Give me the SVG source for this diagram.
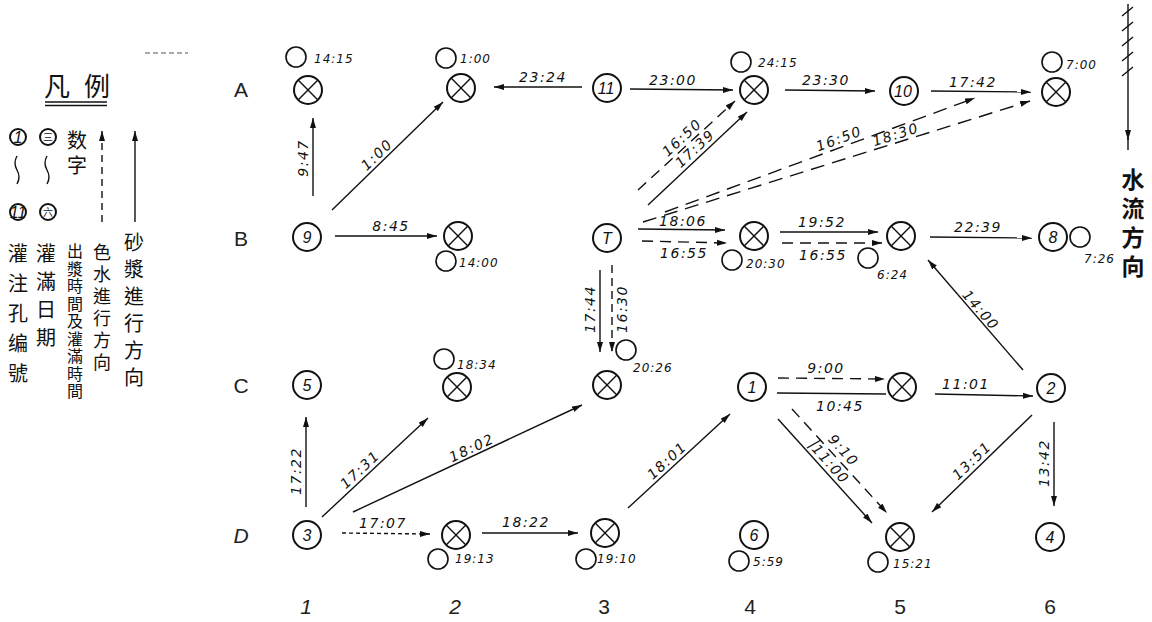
<svg xmlns="http://www.w3.org/2000/svg" width="1152" height="622" viewBox="0 0 1152 622">
<style>
.bg{fill:#fff}
.n{fill:none;stroke:#111;stroke-width:2}
.s{fill:none;stroke:#111;stroke-width:1.6}
.c{fill:none;stroke:#111;stroke-width:1.4}
.d{stroke-dasharray:11 7}
.dd{stroke-dasharray:4 3}
.lb{font-family:"DejaVu Sans",sans-serif;font-style:italic;font-size:14px;letter-spacing:1.5px;fill:#111;text-anchor:middle}
.tm{font-family:"DejaVu Sans",sans-serif;font-style:italic;font-size:12px;letter-spacing:1px;fill:#111}
.nt{font-family:"Liberation Sans",sans-serif;font-style:italic;font-size:16px;fill:#111;text-anchor:middle;dominant-baseline:central}
.rc{font-family:"Liberation Sans",sans-serif;font-size:21px;fill:#222;text-anchor:middle}
.cj{font-family:"Noto Sans CJK SC",sans-serif;fill:#111}
.v{font-family:"Noto Sans CJK TC","Noto Sans CJK SC",sans-serif;fill:#111;writing-mode:vertical-rl}
</style>
<defs>
<marker id="ah" markerUnits="userSpaceOnUse" markerWidth="11" markerHeight="7" refX="10" refY="3.5" orient="auto">
<path d="M0,0.5 L10,3.5 L0,6.5 z" fill="#111"/>
</marker>
<g id="xc"><circle r="14" class="n"/><path d="M-9.9,-9.9 L9.9,9.9 M9.9,-9.9 L-9.9,9.9" stroke="#111" stroke-width="1.4"/></g>
</defs>
<rect class="bg" x="0" y="0" width="1152" height="622"/>

<g id="legend">
<line x1="145" y1="53" x2="188" y2="53" stroke="#555" stroke-width="1" stroke-dasharray="5 3"/>
<text class="cj" x="44" y="96" font-size="26" letter-spacing="14">凡例</text>
<line x1="45" y1="102" x2="107" y2="102" stroke="#111" stroke-width="1.3"/>
<line x1="45" y1="105.5" x2="107" y2="105.5" stroke="#111" stroke-width="1.3"/>
<circle cx="18" cy="137" r="8" class="n"/><text class="nt" x="18" y="137" font-size="11" font-style="normal">1</text>
<circle cx="48" cy="137" r="8" class="n"/><text class="cj" x="48" y="141" font-size="10" text-anchor="middle">三</text>
<path d="M17,156 q-4,7 0,14 q4,7 0,14" class="c"/>
<path d="M47,156 q-4,7 0,14 q4,7 0,14" class="c"/>
<circle cx="18" cy="212" r="8" class="n"/><text class="nt" x="18" y="212" font-size="10" font-style="normal">11</text>
<circle cx="48" cy="212" r="8" class="n"/><text class="cj" x="48" y="216" font-size="10" text-anchor="middle">六</text>
<text class="v" x="77" y="130" font-size="20" letter-spacing="5">数字</text>
<line x1="102" y1="222" x2="102" y2="131" class="c d" marker-end="url(#ah)" style="stroke-dasharray:7 5"/>
<line x1="135" y1="222" x2="135" y2="131" class="c" marker-end="url(#ah)"/>
<text class="v" x="18" y="243" font-size="20" letter-spacing="10">灌注孔编號</text>
<text class="v" x="46" y="243" font-size="20" letter-spacing="8">灌滿日期</text>
<text class="v" x="75" y="243" font-size="16" letter-spacing="1.5">出漿時間及灌滿時間</text>
<text class="v" x="102" y="243" font-size="18" letter-spacing="4">色水進行方向</text>
<text class="v" x="134" y="232" font-size="20" letter-spacing="7">砂漿進行方向</text>
</g>

<g id="flow">
<line x1="1128" y1="4" x2="1128" y2="140" class="c" stroke-width="2" marker-end="url(#ah)"/>
<line x1="1128" y1="138" x2="1128" y2="150" class="c" stroke-width="2"/>
<path d="M1122,16 L1133,7 M1122,31 L1133,22 M1122,46 L1133,37 M1122,61 L1133,52 M1122,76 L1133,67" class="c" stroke-width="1.8"/>
<text class="v" x="1133" y="168" font-size="23" font-weight="bold" letter-spacing="6">水流方向</text>
</g>

<g id="axes">
<text class="rc" x="241" y="97">A</text>
<text class="rc" x="241" y="246">B</text>
<text class="rc" x="241" y="393">C</text>
<text class="rc" x="241" y="543" font-style="italic">D</text>
<text class="rc" x="306" y="614" font-style="italic">1</text>
<text class="rc" x="455" y="614" font-style="italic">2</text>
<text class="rc" x="604" y="614">3</text>
<text class="rc" x="750" y="614">4</text>
<text class="rc" x="900" y="614">5</text>
<text class="rc" x="1050" y="614">6</text>
</g>

<g id="connectors">
<line x1="313" y1="196" x2="313" y2="118" class="c" marker-end="url(#ah)"/>
<text class="lb" transform="translate(313,158) rotate(-90)" y="-5">9:47</text>
<line x1="332" y1="210" x2="443" y2="102" class="c" marker-end="url(#ah)"/>
<text class="lb" transform="translate(383,161) rotate(-44)" y="-4">1:00</text>
<line x1="335" y1="236" x2="437" y2="236" class="c" marker-end="url(#ah)"/>
<text class="lb" x="391" y="231" font-size="15">8:45</text>
<line x1="582" y1="87" x2="494" y2="87" class="c" marker-end="url(#ah)"/>
<text class="lb" x="543" y="82" font-size="15">23:24</text>
<line x1="630" y1="89" x2="733" y2="90" class="c" marker-end="url(#ah)"/>
<text class="lb" x="673" y="85" font-size="15">23:00</text>
<line x1="785" y1="90" x2="875" y2="91" class="c" marker-end="url(#ah)"/>
<text class="lb" x="826" y="85" font-size="15">23:30</text>
<line x1="931" y1="91" x2="1031" y2="92" class="c" marker-end="url(#ah)"/>
<text class="lb" x="973" y="87">17:42</text>

<line x1="638" y1="190" x2="735" y2="101" class="c d" marker-end="url(#ah)"/>
<text class="lb" transform="translate(688,144) rotate(-42.5)" y="-4">16:50</text>
<line x1="648" y1="205" x2="747" y2="112" class="c" marker-end="url(#ah)"/>
<text class="lb" transform="translate(701,155) rotate(-43)" y="-4">17:39</text>

<line x1="665" y1="212" x2="975" y2="98" class="c d" style="stroke-dasharray:14 8" marker-end="url(#ah)"/>
<text class="lb" transform="translate(842,147) rotate(-20.2)" y="-4">16:50</text>
<line x1="643" y1="222" x2="1030" y2="101" class="c d" style="stroke-dasharray:14 8" marker-end="url(#ah)"/>
<text class="lb" transform="translate(898,142) rotate(-17.4)" y="-3">18:30</text>

<line x1="638" y1="229" x2="725" y2="230" class="c" marker-end="url(#ah)"/>
<text class="lb" x="683" y="226">18:06</text>
<line x1="642" y1="241" x2="727" y2="243" class="c d" marker-end="url(#ah)"/>
<text class="lb" x="684" y="258">16:55</text>
<line x1="780" y1="232" x2="878" y2="232" class="c" marker-end="url(#ah)"/>
<text class="lb" x="822" y="227">19:52</text>
<line x1="782" y1="243" x2="882" y2="243" class="c d" marker-end="url(#ah)"/>
<text class="lb" x="823" y="260" font-size="15">16:55</text>
<line x1="930" y1="237" x2="1032" y2="238" class="c" marker-end="url(#ah)"/>
<text class="lb" x="978" y="232" font-size="15">22:39</text>

<line x1="600" y1="270" x2="600" y2="352" class="c" marker-end="url(#ah)"/>
<text class="lb" transform="translate(600,309) rotate(-90)" y="-5" font-size="15">17:44</text>
<line x1="612" y1="265" x2="612" y2="352" class="c d" style="stroke-dasharray:8 5" marker-end="url(#ah)"/>
<text class="lb" transform="translate(612,309) rotate(-90)" y="15">16:30</text>

<line x1="778" y1="378" x2="885" y2="379" class="c d" marker-end="url(#ah)"/>
<text class="lb" x="826" y="373" font-size="15">9:00</text>
<line x1="777" y1="393" x2="886" y2="394" class="c"/>
<text class="lb" x="840" y="411" font-size="15">10:45</text>
<line x1="935" y1="394" x2="1033" y2="396" class="c" marker-end="url(#ah)"/>
<text class="lb" x="966" y="389">11:01</text>

<line x1="1023" y1="370" x2="928" y2="260" class="c" marker-end="url(#ah)"/>
<text class="lb" transform="translate(974,316) rotate(49.2)" y="-4" font-size="15">14:00</text>
<line x1="1032" y1="415" x2="932" y2="512" class="c" marker-end="url(#ah)"/>
<text class="lb" transform="translate(978,467) rotate(-44)" y="-4">13:51</text>
<line x1="1054" y1="422" x2="1054" y2="506" class="c" marker-end="url(#ah)"/>
<text class="lb" transform="translate(1054,463) rotate(-90)" y="-5">13:42</text>

<line x1="778" y1="419" x2="872" y2="523" class="c" marker-end="url(#ah)"/>
<text class="lb" transform="translate(824,470) rotate(47.9)" y="-4" font-size="12.5">11:00</text>
<line x1="792" y1="409" x2="887" y2="513" class="c d" marker-end="url(#ah)"/>
<text class="lb" transform="translate(836,457) rotate(47.9)" y="-5">9:10</text>
<line x1="807" y1="448" x2="821" y2="440" class="c"/>

<line x1="628" y1="508" x2="730" y2="414" class="c" marker-end="url(#ah)"/>
<text class="lb" transform="translate(673,467) rotate(-42.7)" y="-4">18:01</text>

<line x1="306" y1="507" x2="306" y2="417" class="c" marker-end="url(#ah)"/>
<text class="lb" transform="translate(306,471) rotate(-90)" y="-5">17:22</text>
<line x1="322" y1="517" x2="428" y2="418" class="c" marker-end="url(#ah)"/>
<text class="lb" transform="translate(366,476) rotate(-43)" y="-4" font-size="15">17:31</text>
<line x1="353" y1="512" x2="582" y2="405" class="c" marker-end="url(#ah)"/>
<text class="lb" transform="translate(475,455) rotate(-25)" y="-3">18:02</text>
<line x1="342" y1="533" x2="430" y2="534" class="c dd" marker-end="url(#ah)"/>
<text class="lb" x="383" y="528" font-size="13">17:07</text>
<line x1="482" y1="533" x2="578" y2="533" class="c" marker-end="url(#ah)"/>
<text class="lb" x="526" y="527">18:22</text>
</g>

<g id="A1"><use href="#xc" x="308" y="90"/><circle cx="296" cy="57" r="10" class="s"/><text class="tm" x="314" y="63">14:15</text></g>
<g id="A2"><use href="#xc" x="461" y="88"/><circle cx="446" cy="58" r="10" class="s"/><text class="tm" x="460" y="63">1:00</text></g>
<g id="A3"><circle cx="607" cy="88" r="14" class="n"/><text class="nt" x="606" y="88">11</text></g>
<g id="A4"><use href="#xc" x="754" y="90"/><circle cx="741" cy="62" r="10" class="s"/><text class="tm" x="758" y="67">24:15</text></g>
<g id="A5"><circle cx="904" cy="91" r="14" class="n"/><text class="nt" x="903" y="91">10</text></g>
<g id="A6"><use href="#xc" x="1056" y="92"/><circle cx="1052" cy="62" r="10" class="s"/><text class="tm" x="1066" y="69">7:00</text></g>

<g id="B1"><circle cx="307" cy="237" r="14" class="n"/><text class="nt" x="307" y="237">9</text></g>
<g id="B2"><use href="#xc" x="458" y="236"/><circle cx="446" cy="261" r="10" class="s"/><text class="tm" x="459" y="267">14:00</text></g>
<g id="B3"><circle cx="607" cy="238" r="14" class="n"/><text class="nt" x="607" y="238" font-style="normal">T</text></g>
<g id="B4"><use href="#xc" x="754" y="236"/><circle cx="732" cy="260" r="10" class="s"/><text class="tm" x="746" y="268">20:30</text></g>
<g id="B5"><use href="#xc" x="901" y="236"/><circle cx="868" cy="258" r="10" class="s"/><text class="tm" x="877" y="279">6:24</text></g>
<g id="B6"><circle cx="1053" cy="237" r="14" class="n"/><text class="nt" x="1053" y="237" font-style="normal">8</text><circle cx="1080" cy="237" r="10" class="s"/><text class="tm" x="1084" y="263">7:26</text></g>

<g id="C1"><circle cx="307" cy="385" r="14" class="n"/><text class="nt" x="307" y="385" font-style="normal">5</text></g>
<g id="C2"><use href="#xc" x="457" y="387"/><circle cx="444" cy="359" r="10" class="s"/><text class="tm" x="457" y="369">18:34</text></g>
<g id="C3"><use href="#xc" x="607" y="385"/><circle cx="626" cy="350" r="10" class="s"/><text class="tm" x="633" y="372">20:26</text></g>
<g id="C4"><circle cx="752" cy="387" r="14" class="n"/><text class="nt" x="752" y="387">1</text></g>
<g id="C5"><use href="#xc" x="902" y="387"/></g>
<g id="C6"><circle cx="1051" cy="388" r="14" class="n"/><text class="nt" x="1051" y="388">2</text></g>

<g id="D1"><circle cx="307" cy="535" r="14" class="n"/><text class="nt" x="307" y="535" font-style="normal">3</text></g>
<g id="D2"><use href="#xc" x="456" y="535"/><circle cx="438" cy="559" r="10" class="s"/><text class="tm" x="455" y="563">19:13</text></g>
<g id="D3"><use href="#xc" x="605" y="533"/><circle cx="586" cy="559" r="10" class="s"/><text class="tm" x="597" y="563">19:10</text></g>
<g id="D4"><circle cx="754" cy="535" r="14" class="n"/><text class="nt" x="754" y="535" font-style="normal">6</text><circle cx="739" cy="561" r="10" class="s"/><text class="tm" x="753" y="566">5:59</text></g>
<g id="D5"><use href="#xc" x="900" y="537"/><circle cx="878" cy="562" r="10" class="s"/><text class="tm" x="893" y="568">15:21</text></g>
<g id="D6"><circle cx="1050" cy="537" r="14" class="n"/><text class="nt" x="1050" y="537">4</text></g>
</svg>
